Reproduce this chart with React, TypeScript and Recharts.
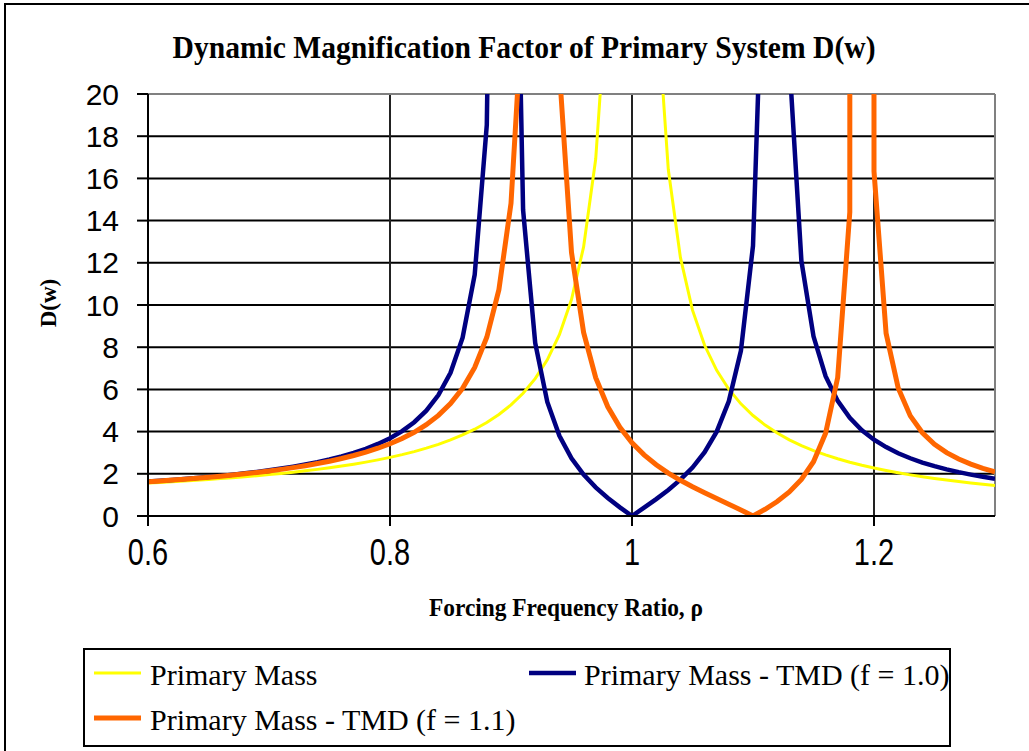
import React from 'react';
import { LineChart, Line, XAxis, YAxis, CartesianGrid, ReferenceLine } from 'recharts';

// Forcing frequency ratio samples
const rho = [
  0.6, 0.61, 0.62, 0.63, 0.64, 0.65, 0.66, 0.67, 0.68, 0.69,
  0.7, 0.71, 0.72, 0.73, 0.74, 0.75, 0.76, 0.77, 0.78, 0.79,
  0.8, 0.81, 0.82, 0.83, 0.84, 0.85, 0.86, 0.87, 0.88, 0.89,
  0.9, 0.91, 0.92, 0.93, 0.94, 0.95, 0.96, 0.97, 0.98, 0.99,
  1.0, 1.01, 1.02, 1.03, 1.04, 1.05, 1.06, 1.07, 1.08, 1.09,
  1.1, 1.11, 1.12, 1.13, 1.14, 1.15, 1.16, 1.17, 1.18, 1.19,
  1.2, 1.21, 1.22, 1.23, 1.24, 1.25, 1.26, 1.27, 1.28, 1.29, 1.3,
];

// Primary mass alone (no absorber); undefined at resonance
const primaryMass: (number | null)[] = [
  1.563, 1.593, 1.624, 1.658, 1.694, 1.732, 1.772, 1.815, 1.86, 1.909,
  1.961, 2.017, 2.076, 2.141, 2.21, 2.286, 2.367, 2.456, 2.554, 2.66,
  2.778, 2.908, 3.053, 3.214, 3.397, 3.604, 3.84, 4.114, 4.433, 4.81,
  5.263, 5.817, 6.51, 7.402, 8.591, 10.256, 12.755, 16.92, 25.253, 50.25,
  null, 49.75, 24.752, 16.42, 12.255, 9.756, 8.091, 6.901, 6.01, 5.316,
  4.762, 4.309, 3.931, 3.611, 3.338, 3.101, 2.894, 2.711, 2.548, 2.403,
  2.273, 2.155, 2.048, 1.95, 1.86, 1.778, 1.702, 1.632, 1.566, 1.506, 1.449,
];

// Primary mass with tuned mass damper, f = 1.0
const tmdF10 = [
  1.634, 1.672, 1.711, 1.754, 1.8, 1.849, 1.902, 1.959, 2.022, 2.09,
  2.165, 2.247, 2.338, 2.439, 2.552, 2.679, 2.825, 2.992, 3.186, 3.414,
  3.689, 4.024, 4.445, 4.991, 5.729, 6.788, 8.447, 11.438, 18.53, 57.48,
  43.18, 14.5, 8.202, 5.406, 3.8, 2.737, 1.963, 1.357, 0.853, 0.409,
  0, 0.397, 0.802, 1.234, 1.721, 2.297, 3.022, 3.997, 5.432, 7.83,
  12.805, 30.006, 127.3, 21.584, 12.09, 8.514, 6.626, 5.454, 4.652, 4.066,
  3.618, 3.264, 2.976, 2.737, 2.534, 2.361, 2.21, 2.078, 1.961, 1.856, 1.762,
];

// Primary mass with tuned mass damper, f = 1.1
const tmdF11 = [
  1.628, 1.664, 1.702, 1.744, 1.788, 1.835, 1.886, 1.94, 1.999, 2.063,
  2.133, 2.209, 2.292, 2.384, 2.485, 2.598, 2.724, 2.866, 3.026, 3.211,
  3.424, 3.673, 3.969, 4.327, 4.767, 5.324, 6.051, 7.04, 8.471, 10.727,
  14.818, 24.561, 78.33, 60.51, 21.106, 12.49, 8.701, 6.56, 5.176, 4.201,
  3.471, 2.898, 2.43, 2.035, 1.691, 1.383, 1.098, 0.827, 0.56, 0.288,
  0, 0.318, 0.687, 1.139, 1.73, 2.573, 3.925, 6.566, 14.401, 2449,
  16.335, 8.658, 6.062, 4.745, 3.943, 3.398, 3.001, 2.698, 2.457, 2.26, 2.097,
];

const xTicks = [0.6, 0.8, 1, 1.2];
const xTickLabels = ['0.6', '0.8', '1', '1.2'];
const yTicks = [0, 2, 4, 6, 8, 10, 12, 14, 16, 18, 20];
const yTickLabels = ['0', '2', '4', '6', '8', '10', '12', '14', '16', '18', '20'];
const gridY = [2, 4, 6, 8, 10, 12, 14, 16, 18];
const gridX = [0.8, 1, 1.2];

const series = [
  { key: 'pm', name: 'Primary Mass', color: '#FFFF00', width: 3 },
  { key: 'f10', name: 'Primary Mass - TMD (f = 1.0)', color: '#000080', width: 4.5 },
  { key: 'f11', name: 'Primary Mass - TMD (f = 1.1)', color: '#FF6600', width: 5 },
];

const data = rho.map((r, i) => ({
  rho: r,
  pm: primaryMass[i],
  f10: tmdF10[i],
  f11: tmdF11[i],
}));

const SANS = "'Liberation Sans', Arial, sans-serif";
const SERIF = "'Liberation Serif', 'Times New Roman', serif";

const legendItems = [
  { s: series[0], lx: 9, tx: 65, ly: 23, ty: 35 },
  { s: series[1], lx: 444, tx: 499, ly: 23, ty: 35 },
  { s: series[2], lx: 9, tx: 65, ly: 68, ty: 80 },
];

// Tall category labels under the x axis
function XTick(props: any) {
  const { x, y, payload } = props;
  const label = xTickLabels[xTicks.indexOf(payload.value)];
  return (
    <g transform={`translate(${x},${y + 39}) scale(1,1.28)`}>
      <text x={0} y={0} textAnchor="middle" fontFamily={SANS} fontSize={29} fill="#000">
        {label}
      </text>
    </g>
  );
}

export default function App() {
  return (
    <div style={{ position: 'relative', width: 1029, height: 751, overflow: 'hidden', background: '#fff' }}>
      <style>{`body{margin:0;padding:0}`}</style>
      <div
        style={{
          position: 'absolute',
          left: 4,
          top: 3,
          width: 1100,
          height: 800,
          border: '2px solid #000',
          boxSizing: 'border-box',
        }}
      />
      <div style={{ position: 'absolute', left: 0, top: 0 }}>
        <LineChart
          width={1029}
          height={751}
          data={data}
          margin={{ top: 94, right: 34, bottom: 205, left: 88 }}
        >
          <CartesianGrid
            vertical={false}
            horizontalValues={gridY}
            stroke="#000"
            strokeWidth={2}
          />
          <CartesianGrid
            horizontal={false}
            verticalValues={gridX}
            stroke="#222"
            strokeWidth={2}
          />
          <ReferenceLine y={20} stroke="#808080" strokeWidth={2} />
          <ReferenceLine x={1.3} stroke="#808080" strokeWidth={2} />
          <XAxis
            dataKey="rho"
            type="number"
            domain={[0.6, 1.3]}
            ticks={xTicks}
            interval={0}
            height={30}
            allowDataOverflow
            axisLine={{ stroke: '#000', strokeWidth: 2 }}
            tickLine={{ stroke: '#000', strokeWidth: 2 }}
            tickSize={10}
            tickMargin={0}
            tick={<XTick />}
          />
          <YAxis
            type="number"
            domain={[0, 20]}
            ticks={yTicks}
            interval={0}
            width={60}
            allowDataOverflow
            tickFormatter={(v: number) => yTickLabels[yTicks.indexOf(v)]}
            axisLine={{ stroke: '#000', strokeWidth: 2 }}
            tickLine={{ stroke: '#000', strokeWidth: 2 }}
            tickSize={11}
            tickMargin={18}
            tick={{ fill: '#000', fontSize: 30, fontFamily: SANS }}
          />
          {series.map((s) => (
            <Line
              key={s.key}
              dataKey={s.key}
              name={s.name}
              type="linear"
              stroke={s.color}
              strokeWidth={s.width}
              dot={false}
              activeDot={false}
              isAnimationActive={false}
            />
          ))}
        </LineChart>
      </div>
      <svg
        width={1029}
        height={751}
        style={{ position: 'absolute', left: 0, top: 0, pointerEvents: 'none' }}
      >
        <g transform="translate(524,58) scale(1,1.1)">
          <text
            x={0}
            y={0}
            textAnchor="middle"
            fontFamily={SERIF}
            fontWeight="bold"
            fontSize={29.6}
            fill="#000"
          >
            Dynamic Magnification Factor of Primary System D(w)
          </text>
        </g>
        <text
          x={48}
          y={303}
          transform="rotate(-90 48 303)"
          textAnchor="middle"
          dominantBaseline="central"
          fontFamily={SERIF}
          fontWeight="bold"
          fontSize={23}
          fill="#000"
        >
          D(w)
        </text>
        <g transform="translate(566,616) scale(1,1.12)">
          <text
            x={0}
            y={0}
            textAnchor="middle"
            fontFamily={SERIF}
            fontWeight="bold"
            fontSize={23.4}
            fill="#000"
          >
            Forcing Frequency Ratio, ρ
          </text>
        </g>
      </svg>
      <div
        style={{
          position: 'absolute',
          left: 83,
          top: 648,
          width: 868,
          height: 99,
          border: '2px solid #000',
          boxSizing: 'border-box',
          background: '#fff',
        }}
      >
        <svg width={864} height={95} style={{ position: 'absolute', left: 0, top: 0 }}>
          {legendItems.map((it) => (
            <g key={it.s.key}>
              <line
                x1={it.lx}
                x2={it.lx + 47}
                y1={it.ly}
                y2={it.ly}
                stroke={it.s.color}
                strokeWidth={it.s.width}
              />
              <text x={it.tx} y={it.ty} fontFamily={SERIF} fontSize={30} fill="#000">
                {it.s.name}
              </text>
            </g>
          ))}
        </svg>
      </div>
    </div>
  );
}
